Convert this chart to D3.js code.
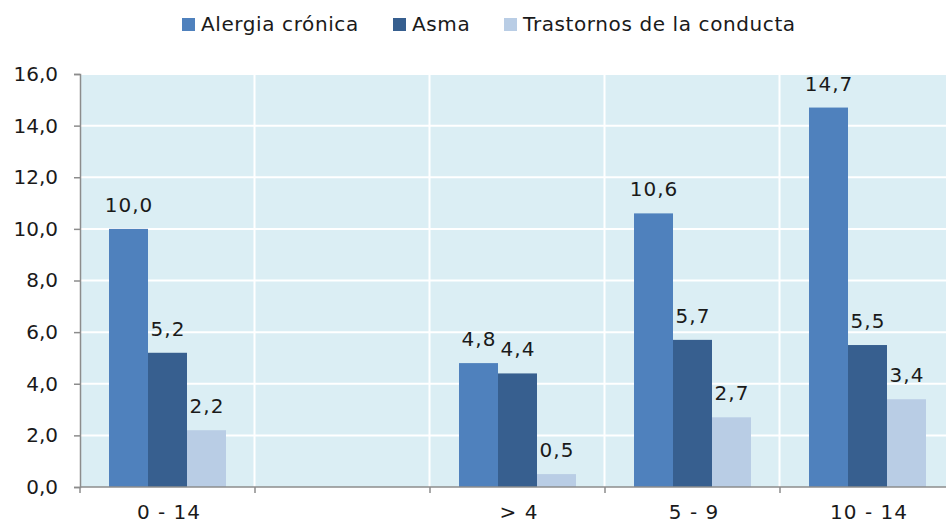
<!DOCTYPE html>
<html>
<head>
<meta charset="utf-8">
<script src="https://cdn.jsdelivr.net/npm/d3@7"></script>
<style>
  body { margin: 0; background: #fff; }
  text { font-family: "DejaVu Sans", Verdana, sans-serif; fill: #1a1a1a; }
</style>
</head>
<body>
<div id="chart"></div>
<script>
// data
var categories = ["0 - 14", "", "> 4", "5 - 9", "10 - 14"];
var seriesNames = ["Alergia crónica", "Asma", "Trastornos de la conducta"];
var alergia = [10.0, null, 4.8, 10.6, 14.7];
var asma = [5.2, null, 4.4, 5.7, 5.5];
var trastornos = [2.2, null, 0.5, 2.7, 3.4];
var yTicks = [0, 2, 4, 6, 8, 10, 12, 14, 16];

var colors = ["#4f81bd", "#375f8f", "#b9cde5"];
var width = 946, height = 524;
var margin = {top: 74, left: 80, bottom: 37};

var es = d3.formatLocale({decimal: ",", thousands: ".", grouping: [3], currency: ["", "€"]});
var fmt = es.format(".1f");

var svg = d3.select("#chart").append("svg")
  .attr("width", width)
  .attr("height", height);

var y_scale = d3.scaleLinear()
  .domain([0, 16])
  .range([height - margin.bottom, margin.top]);

var x_scale = d3.scaleBand()
  .domain(categories)
  .range([margin.left - 0.5, margin.left - 0.5 + 875]);

var x_inner = d3.scaleBand()
  .domain(seriesNames)
  .range([0, x_scale.bandwidth()])
  .paddingInner(0)
  .paddingOuter(0.744);

// plot background
svg.append("rect")
  .attr("x", margin.left)
  .attr("y", y_scale(16))
  .attr("width", width - margin.left)
  .attr("height", y_scale(0) - y_scale(16))
  .attr("fill", "#dbeef4");

// horizontal grid
svg.selectAll("line.hgrid")
  .data(yTicks.slice(1))
  .enter().append("line")
  .attr("class", "hgrid")
  .attr("x1", margin.left).attr("x2", width)
  .attr("y1", d => y_scale(d)).attr("y2", d => y_scale(d))
  .attr("stroke", "#fff").attr("stroke-width", 2);

// vertical grid between categories
svg.selectAll("line.vgrid")
  .data(categories.slice(1))
  .enter().append("line")
  .attr("class", "vgrid")
  .attr("x1", d => x_scale(d)).attr("x2", d => x_scale(d))
  .attr("y1", y_scale(16)).attr("y2", y_scale(0))
  .attr("stroke", "#fff").attr("stroke-width", 2);

// bars
var series = [alergia, asma, trastornos];
series.forEach(function (vals, si) {
  var rows = categories.map((c, i) => ({cat: c, v: vals[i]})).filter(d => d.v != null);
  svg.selectAll("rect.s" + si)
    .data(rows)
    .enter().append("rect")
    .attr("class", "s" + si)
    .attr("x", d => x_scale(d.cat) + x_inner(seriesNames[si]) + 0.5)
    .attr("y", d => y_scale(d.v))
    .attr("width", x_inner.bandwidth())
    .attr("height", d => y_scale(0) - y_scale(d.v))
    .attr("fill", colors[si]);

  svg.selectAll("text.l" + si)
    .data(rows)
    .enter().append("text")
    .attr("class", "l" + si)
    .attr("x", d => x_scale(d.cat) + x_inner(seriesNames[si]) + x_inner.bandwidth() / 2 + 1)
    .attr("y", d => y_scale(d.v) - 17)
    .attr("text-anchor", "middle")
    .style("font-size", "20px")
    .style("letter-spacing", "1px")
    .text(d => fmt(d.v));
});

// y axis
var y_axis = svg.append("g")
  .attr("transform", "translate(" + margin.left + ",0)")
  .call(d3.axisLeft(y_scale).tickValues(yTicks).tickFormat(fmt).tickSize(6).tickPadding(16));
y_axis.selectAll("path, line").attr("stroke", "#8c8c8c").attr("stroke-width", 1.5);
y_axis.selectAll("text")
  .style("font-size", "20px")
  .style("font-family", "DejaVu Sans, Verdana, sans-serif")
  .attr("fill", "#1a1a1a");

// x axis
var x_axis = svg.append("g")
  .attr("transform", "translate(0," + y_scale(0) + ")");
x_axis.append("line")
  .attr("x1", margin.left).attr("x2", width)
  .attr("stroke", "#8c8c8c").attr("stroke-width", 1.5);
x_axis.selectAll("line.tick")
  .data(categories)
  .enter().append("line")
  .attr("class", "tick")
  .attr("x1", d => x_scale(d) + 0.5).attr("x2", d => x_scale(d) + 0.5)
  .attr("y1", 0).attr("y2", 6)
  .attr("stroke", "#8c8c8c").attr("stroke-width", 1.5);
x_axis.selectAll("text")
  .data(categories)
  .enter().append("text")
  .attr("x", d => x_scale(d) + x_scale.bandwidth() / 2 + 2)
  .attr("y", 32)
  .attr("text-anchor", "middle")
  .style("font-size", "20px")
  .style("letter-spacing", "1px")
  .text(d => d);

// legend
var legendX = [182, 393, 504];
var legend = svg.selectAll("g.legend")
  .data(seriesNames)
  .enter().append("g")
  .attr("class", "legend")
  .attr("transform", (d, i) => "translate(" + legendX[i] + ",0)");
legend.append("rect")
  .attr("x", 0).attr("y", 18)
  .attr("width", 13).attr("height", 13)
  .attr("fill", (d, i) => colors[i]);
legend.append("text")
  .attr("x", 19).attr("y", 31)
  .style("font-size", "20px")
  .style("letter-spacing", "0.6px")
  .text(d => d);
</script>
</body>
</html>
